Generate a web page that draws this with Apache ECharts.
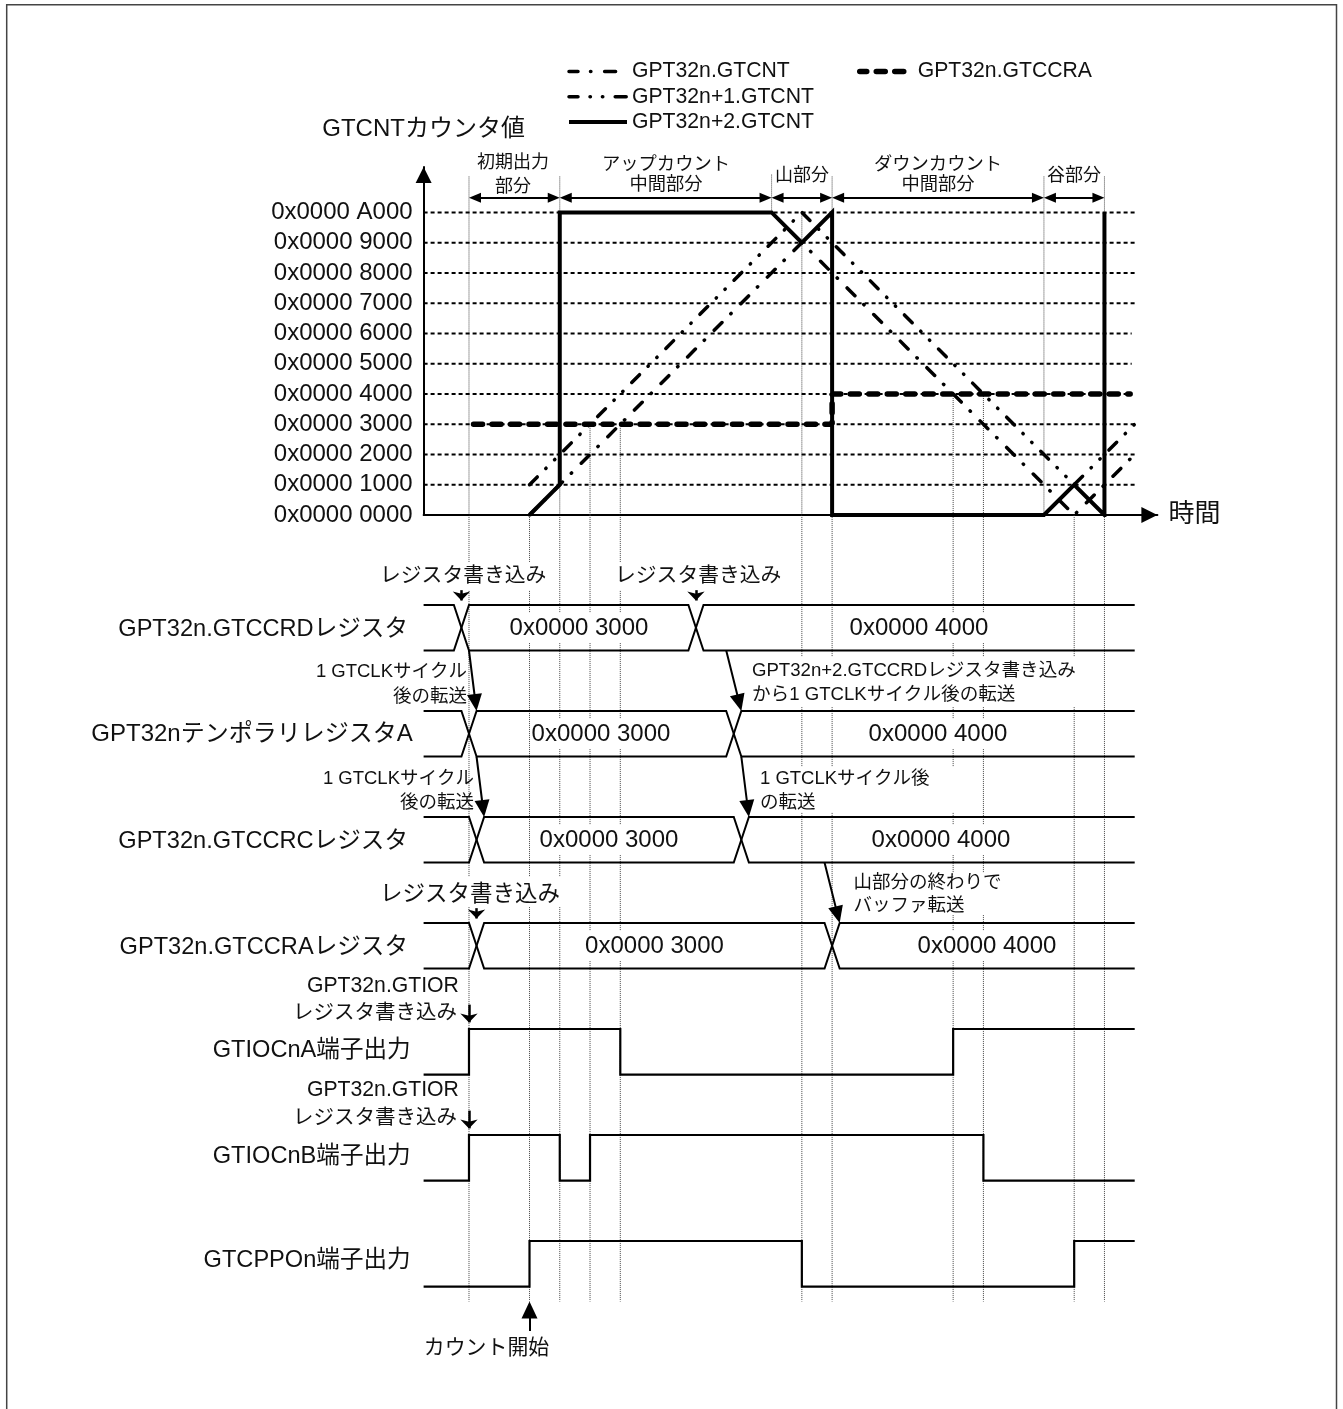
<!DOCTYPE html>
<html>
<head>
<meta charset="utf-8">
<style>html,body{margin:0;padding:0;background:#fff}#chart{width:1343px;height:1409px}</style>
<script src="https://cdn.jsdelivr.net/npm/echarts@6/dist/echarts.min.js"></script>
</head>
<body>
<div id="chart"></div>
<script>
// x is in counter periods of 0x1000 from count start, y of the top plot is the counter value
const yTickLabels = ['0x0000 0000','0x0000 1000','0x0000 2000','0x0000 3000','0x0000 4000','0x0000 5000',
  '0x0000 6000','0x0000 7000','0x0000 8000','0x0000 9000','0x0000 A000'];
const gridEnds = [20.05,20.05,20.05,20.05,19.9,19.9,19.9,20.05,20.05,20.05,20.05];

const cntN  = [[0,0x0000],[9,0x9000],[18,0x0000],[20,0x2000]];
const cntN1 = [[0,0x1000],[9,0xA000],[18,0x1000],[20,0x3000]];
const cntN2 = [[0,0x0000],[1,0x1000],[1,0xA000],[8,0xA000],[9,0x9000],[10,0xA000],[10,0x0000],[17,0x0000],[18,0x1000],[19,0x0000],[19,0xA000]];
const ccra  = [[-1.85,0x3000],[10,0x3000],[10,0x4000],[19.85,0x4000]];

const sections = [[-2,1],[1,8],[8,10],[10,17],[17,19]];
const topGuides = [[-2,0xB300,0],[1,0xB300,0],[2,0x3000,0],[3,0x3000,0],[8,0xB400,0xA000],[9,0xA000,0],
  [10,0xB300,0],[14,0x4000,0],[15,0x4000,0],[17,0xB300,0],[19,0xB300,0]];
const lowGuides = [-2,0,1,2,3,9,10,14,15,18,19];

const rowLabels = ['GPT32n.GTCCRDレジスタ','GPT32nテンポラリレジスタA','GPT32n.GTCCRCレジスタ','GPT32n.GTCCRAレジスタ',
  'GTIOCnA端子出力','GTIOCnB端子出力','GTCPPOn端子出力'];
// bus rows: start time of the two crossings
const busCross = [[-2.5,5.25],[-2.25,6.5],[-2,6.75],[-2,9.75]];
const busValues = ['0x0000 3000','0x0000 4000'];
// output pins: [time, level], 1 high 0 low
const pinA = [[-3.5,0],[-2,0],[-2,1],[3,1],[3,0],[14,0],[14,1],[20,1]];
const pinB = [[-3.5,0],[-2,0],[-2,1],[1,1],[1,0],[2,0],[2,1],[15,1],[15,0],[20,0]];
const pinP = [[-3.5,0],[0,0],[0,1],[9,1],[9,0],[18,0],[18,1],[20,1]];

const transfers = [[[-2,0.43],[-1.75,1]],[[-1.75,1.43],[-1.5,2]],[[6.5,0.43],[7,1]],[[7,1.43],[7.25,2]],[[9.75,2.43],[10.25,3]]];
const writes = [[[-2.25,-0.14],[-2.25,0]],[[5.5,-0.14],[5.5,0]],[[-1.75,2.86],[-1.75,3]],[[-2,3.77],[-2,3.98]],[[-2,4.77],[-2,4.98]]];
const countStart = [[0,6.85],[0,6.57]];

const FONT = '"Liberation Sans","Noto Sans CJK JP",sans-serif';
const PX_X = 30.26, PX_Y = 106;
const X_MIN = -3.5, X_MAX = 20.75, ROW_H = 0.43;

const styleN   = { color: '#000', width: 3.5, type: [11,12.5,0.4,13.7], cap: 'round', dashOffset: 2 };
const styleN1  = { color: '#000', width: 3.5, type: [11,12,0.4,12,0.4,12.4], cap: 'round' };
const styleN2  = { color: '#000', width: 4, type: 'solid', join: 'miter' };
const styleCra = { color: '#000', width: 5.5, type: [9,9.5], cap: 'round' };

function line(name, data, width, dash, axis, extra) {
  return Object.assign({
    name, type: 'line', data, xAxisIndex: axis, yAxisIndex: axis, symbol: 'none', silent: true,
    lineStyle: { color: '#000', width, type: dash || 'solid', join: 'miter' }
  }, extra || {});
}

// markLine centres its symbol on the end point, so pull the end back by half a head
function tip(a, b, head, sy) {
  const dx = (b[0] - a[0]) * PX_X, dy = (b[1] - a[1]) * sy, len = Math.hypot(dx, dy);
  const k = (head / 2) / len;
  return [b[0] - (b[0] - a[0]) * k, b[1] - (b[1] - a[1]) * k];
}
function arrows(pairs, size, symbols, axis, sy, width) {
  return line('', [], 2, null, axis, {
    z: 4,
    markLine: {
      silent: true, animation: false, symbol: symbols, symbolSize: size,
      label: { show: false }, emphasis: { disabled: true },
      lineStyle: { color: '#000', width: width || 2, type: 'solid' },
      data: pairs.map(p => [
        { coord: symbols[0] === 'none' ? p[0] : tip(p[1], p[0], size[1], sy) },
        { coord: tip(p[0], p[1], size[1], sy) }
      ])
    }
  });
}

const series = [];
// guides
const guideStyle = { color: '#444', width: 1, type: [1,1] };
topGuides.forEach(g => series.push(line('', [[g[0],g[1]],[g[0],g[2]]], 1, null, 0, { z: 1, lineStyle: guideStyle })));
lowGuides.forEach(t => series.push(line('', [[t,-0.85],[t,6.57]], 1, null, 1, { z: 1, lineStyle: guideStyle })));
// horizontal dashed rules
gridEnds.forEach((e, i) => series.push(line('', [[X_MIN,i*0x1000],[e,i*0x1000]], 2, [4,3], 0, { z: 1 })));
// counters
series.push(line('GPT32n.GTCNT', cntN, 3.5, null, 0, { z: 3, lineStyle: styleN }));
series.push(line('GPT32n+1.GTCNT', cntN1, 3.5, null, 0, { z: 3, lineStyle: styleN1 }));
series.push(line('GPT32n+2.GTCNT', cntN2, 4, null, 0, { z: 3, lineStyle: styleN2 }));
series.push(line('GPT32n.GTCCRA', ccra, 5.5, null, 0, { z: 3, lineStyle: styleCra }));
// section span arrows
const secLevel = 0xA7C0;
series.push(line('', [], 2, null, 0, {
  z: 4,
  markLine: {
    silent: true, animation: false, symbol: ['triangle','triangle'], symbolSize: [10,12],
    label: { show: false }, emphasis: { disabled: true },
    lineStyle: { color: '#000', width: 2, type: 'solid' },
    data: sections.map(s => [{ coord: [s[0] + 6/PX_X, secLevel] }, { coord: [s[1] - 6/PX_X, secLevel] }])
  }
}));
// bus rows
busCross.forEach((c, i) => {
  const H = i, L = i + ROW_H;
  series.push(line('', [[X_MIN,H],[c[0],H],[c[0]+0.5,L],[c[1],L],[c[1]+0.5,H],[20,H]], 2, null, 1, { z: 3 }));
  series.push(line('', [[X_MIN,L],[c[0],L],[c[0]+0.5,H],[c[1],H],[c[1]+0.5,L],[20,L]], 2, null, 1, { z: 3 }));
});
// pin outputs
[pinA, pinB, pinP].forEach((pin, i) => {
  const row = i + 4;
  series.push(line('', pin.map(p => [p[0], row + (p[1] ? 0 : ROW_H)]), 2.2, null, 1, { z: 3 }));
});
series.push(arrows(transfers, [15,17], ['none','triangle'], 1, PX_Y));
series.push(arrows(writes, [13,9], ['none','arrow'], 1, PX_Y, 2.5));
series.push(arrows([countStart], [16,17], ['none','triangle'], 1, PX_Y));

// annotations
const g = [];
function note(x, y, text, size, align) {
  g.push({ type: 'text', x, y: y + 1.5, z: 6, silent: true, style: { text, fontSize: size, fontFamily: FONT, fill: '#111', align: align || 'left', verticalAlign: 'middle' } });
}
function box(x0, y0, x1, y1) {
  g.push({ type: 'rect', z: 5, silent: true, shape: { x: x0, y: y0, width: x1 - x0, height: y1 - y0 }, style: { fill: '#fff' } });
}
g.push({ type: 'polyline', z: 6, silent: true, shape: { points: [[6.7,1409],[6.7,4.8],[1336.5,4.8],[1336.5,1409]] }, style: { stroke: '#444', lineWidth: 1.5, fill: null } });

const rowLabelPos = [[408,629],[412.7,734],[408,841],[408,947],[410.7,1050],[410.7,1156],[410.7,1260]];
rowLabels.forEach((t, i) => note(rowLabelPos[i][0], rowLabelPos[i][1] - 1, t, i === 1 ? 24 : 23.6, 'right'));

[[579,919,605],[601,938,711],[609,941,817],[654.5,987,923]].forEach(r => {
  box(r[0]-70, r[2]+8, r[0]+70, r[2]+38); box(r[1]-70, r[2]+8, r[1]+70, r[2]+38);
  note(r[0], r[2]+22, busValues[0], 24, 'center'); note(r[1], r[2]+22, busValues[1], 24, 'center');
});

note(513,162,'初期出力',18,'center'); note(513,186,'部分',18,'center');
note(666,163,'アップカウント',18.3,'center'); note(666,183,'中間部分',18.3,'center');
note(802,175,'山部分',18,'center');
note(938,163,'ダウンカウント',18.3,'center'); note(938,183,'中間部分',18.3,'center');
note(1074,175,'谷部分',18,'center');

box(380,562,546,590); note(380,575,'レジスタ書き込み',20.8);
box(615,562,782,590); note(615,575,'レジスタ書き込み',20.8);
box(380,877,562,907); note(380,893,'レジスタ書き込み',22.5);

note(467,670,'1 GTCLKサイクル',18.5,'right'); note(467,695,'後の転送',18.5,'right');
note(474,777,'1 GTCLKサイクル',18.5,'right'); note(474,801,'後の転送',18.5,'right');
box(750,657,1078,707); note(752,669,'GPT32n+2.GTCCRDレジスタ書き込み',18.6); note(752,693,'から1 GTCLKサイクル後の転送',18.6);
box(758,767,968,812); note(760,777,'1 GTCLKサイクル後',18.5); note(760,801,'の転送',18.5);
box(853,873,1003,915); note(853.5,881,'山部分の終わりで',18.5); note(853.5,904,'バッファ転送',18.5);

note(307,985,'GPT32n.GTIOR',21.2); note(457,1012,'レジスタ書き込み',20.5,'right');
note(307,1089,'GPT32n.GTIOR',21.2); note(457,1117,'レジスタ書き込み',20.5,'right');
note(486.5,1347,'カウント開始',20.9,'center');

const chart = echarts.init(document.getElementById('chart'), null, { renderer: 'canvas' });
const axisArrow = { onZero: false, symbol: ['none','triangle'], symbolSize: [16,16], symbolOffset: [0,-8], lineStyle: { color: '#000', width: 2 } };
const legendText = { fontSize: 21.2, color: '#111', fontFamily: FONT, lineHeight: 21 };
chart.setOption({
  animation: false,
  backgroundColor: '#fff',
  textStyle: { fontFamily: FONT, color: '#111' },
  grid: [
    { left: 423.6, width: 733.8, top: 167, height: 348 },
    { left: 423.6, width: 733.8, top: 499, height: 848 }
  ],
  xAxis: [
    { type: 'value', gridIndex: 0, min: X_MIN, max: X_MAX, splitLine: { show: false }, axisTick: { show: false }, axisLabel: { show: false },
      name: '時間', nameLocation: 'end', nameGap: 11, nameTextStyle: { fontSize: 26, color: '#111', fontFamily: FONT },
      axisLine: axisArrow },
    { type: 'value', gridIndex: 1, min: X_MIN, max: X_MAX, show: false }
  ],
  yAxis: [
    { type: 'value', gridIndex: 0, min: 0, max: 0xB800, interval: 0x1000, splitLine: { show: false }, axisTick: { show: false },
      name: 'GTCNTカウンタ値', nameLocation: 'end', nameGap: 26, nameTextStyle: { fontSize: 24, color: '#111', fontFamily: FONT },
      axisLabel: { margin: 11, fontSize: 24, color: '#111', fontFamily: FONT, formatter: v => yTickLabels[v / 0x1000] || '' },
      axisLine: Object.assign({ show: true }, axisArrow) },
    { type: 'value', gridIndex: 1, min: -1, max: 7, inverse: true, show: false }
  ],
  legend: [
    { left: 567, top: 61, padding: 0, orient: 'vertical', itemWidth: 58, itemHeight: 14, itemGap: 4, selectedMode: false,
      itemStyle: { opacity: 0 }, textStyle: legendText,
      data: [{ name: 'GPT32n.GTCNT', lineStyle: styleN }, { name: 'GPT32n+1.GTCNT', lineStyle: styleN1 }, { name: 'GPT32n+2.GTCNT', lineStyle: styleN2 }] },
    { left: 857, top: 61, padding: 0, itemWidth: 53, itemHeight: 14, selectedMode: false,
      itemStyle: { opacity: 0 }, textStyle: legendText,
      data: [{ name: 'GPT32n.GTCCRA', lineStyle: styleCra }] }
  ],
  graphic: { elements: g },
  series
});
</script>
</body>
</html>
